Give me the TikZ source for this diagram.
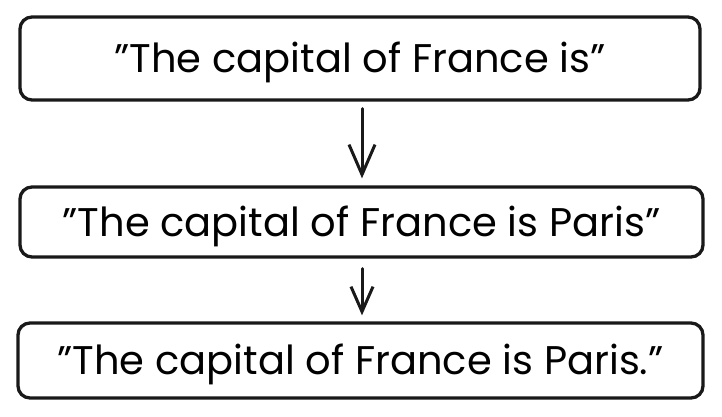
\documentclass[tikz,border=0pt]{standalone}
\usepackage{fontspec}
\setmainfont{Poppins}
\usetikzlibrary{arrows.meta}
\newcommand{\qq}{\char34\relax}
\tikzset{
  box/.style={draw=black!90, line width=3.3pt, rounded corners=12pt, inner sep=0pt,
    font=\fontsize{40}{46}\selectfont, text height=28pt, text depth=0pt},
  flow/.style={draw=black!90, line width=3pt, line cap=round},
  bigtip/.style={-{Straight Barb[length=30pt,width=26pt,line width=3pt]}},
  smalltip/.style={-{Straight Barb[length=25pt,width=22pt,line width=3pt]}},
}
\begin{document}
\begin{tikzpicture}[x=1pt,y=-1pt]
\useasboundingbox (0,0) rectangle (722,416);
\node[box, minimum width=680pt, minimum height=83pt] (b1) at (360,58.5) {\qq The capital of France is\qq};
\node[box, minimum width=683pt, minimum height=70pt] (b2) at (361.5,222) {\qq The capital of France is Paris\qq};
\node[box, minimum width=685pt, minimum height=75pt] (b3) at (360.5,360.5) {\qq The capital of France is Paris.\qq};
\draw[flow, bigtip, shorten <=7pt, shorten >=7pt] ([xshift=2pt]b1.south) -- ([xshift=2pt]b1.south |- b2.north);
\draw[flow, smalltip, shorten <=10pt, shorten >=6pt] ([xshift=0.5pt]b2.south) -- ([xshift=0.5pt]b2.south |- b3.north);
\end{tikzpicture}
\end{document}
